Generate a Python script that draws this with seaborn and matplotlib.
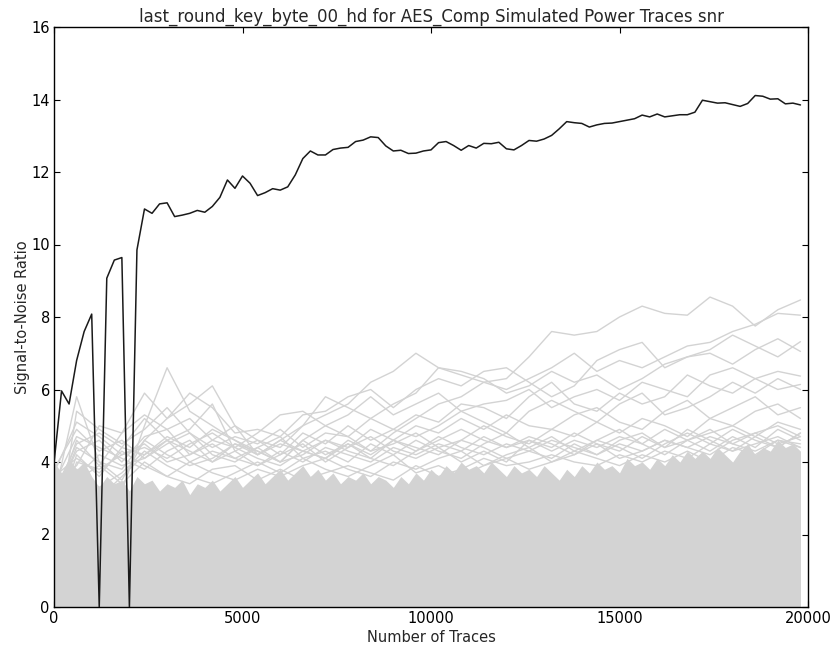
import numpy as np
import pandas as pd
import matplotlib
matplotlib.use("Agg")
import matplotlib.pyplot as plt
import seaborn as sns

# ---- data ----
traces_key = list(range(0, 20000, 200))  # 0 .. 19800
snr_key = [3.97, 5.96, 5.6, 6.8, 7.6, 8.08, 0.0, 9.07, 9.57, 9.64,
           0.0, 9.85, 10.98, 10.86, 11.12, 11.15, 10.77, 10.81, 10.86, 10.94,
           10.89, 11.05, 11.3, 11.78, 11.55, 11.89, 11.69, 11.35, 11.43, 11.54,
           11.5, 11.59, 11.92, 12.37, 12.58, 12.47, 12.47, 12.62, 12.66, 12.68,
           12.84, 12.88, 12.97, 12.95, 12.72, 12.58, 12.6, 12.51, 12.52, 12.58,
           12.61, 12.81, 12.84, 12.73, 12.6, 12.73, 12.66, 12.79, 12.78, 12.82,
           12.64, 12.61, 12.73, 12.87, 12.85, 12.91, 13.01, 13.19, 13.39, 13.36,
           13.34, 13.24, 13.30, 13.34, 13.35, 13.39, 13.43, 13.47, 13.57, 13.52,
           13.6, 13.52, 13.55, 13.58, 13.58, 13.65, 13.98, 13.94, 13.9, 13.91,
           13.86, 13.81, 13.89, 14.11, 14.09, 14.01, 14.02, 13.88, 13.9, 13.85]

# top of the dense, nearly solid mass of wrong-key guesses
wrong_mass_top = [4.0, 3.7, 4.1, 3.8, 4.0, 3.6,
                  3.3, 3.6, 3.4, 3.5, 3.2,
                  3.6, 3.4, 3.5, 3.2, 3.4, 3.3, 3.5, 3.1, 3.4, 3.3, 3.5, 3.2, 3.4, 3.6, 3.3,
                  3.5, 3.7, 3.4, 3.6, 3.8, 3.5, 3.7, 3.9, 3.6, 3.8, 3.5, 3.7, 3.4, 3.6, 3.5,
                  3.7, 3.4, 3.6, 3.5, 3.3, 3.6, 3.4, 3.7, 3.5, 3.8, 3.6, 3.9, 3.7, 4.0, 3.8,
                  3.9, 3.7, 4.0, 3.8, 3.6, 3.9, 3.7, 3.8, 3.6, 3.9, 3.7, 3.5, 3.8, 3.6, 3.9,
                  3.7, 4.0, 3.8, 3.9, 3.7, 4.1, 3.9, 4.0, 3.8, 4.1, 3.9, 4.2, 4.0, 4.3, 4.1,
                  4.3, 4.1, 4.4, 4.2, 4.0, 4.3, 4.5, 4.2, 4.4, 4.3, 4.6, 4.4, 4.5, 4.3]

traces_wrong = list(range(0, 20000, 600))  # 0 .. 19800
# wrong-key guesses that stand out above the mass
wrong_g1 = [2.5, 3.4, 3.0, 3.6, 4.2, 4.6, 4.3, 4.0, 4.5, 4.2, 4.6, 5.0, 5.3, 5.6, 6.2, 6.5, 7.0,
            6.6, 6.4, 6.2, 6.3, 6.9, 7.6, 7.5, 7.6, 8.0, 8.3, 8.1, 8.05, 8.55, 8.3, 7.75, 8.2, 8.47]
wrong_g2 = [2.0, 3.1, 2.7, 3.2, 5.0, 6.6, 5.4, 5.0, 4.6, 4.3, 4.0, 4.6, 5.0, 4.7, 4.3, 4.8, 5.2,
            5.6, 5.8, 6.2, 6.0, 6.3, 6.6, 7.0, 6.5, 6.8, 6.6, 6.9, 7.2, 7.3, 7.6, 7.8, 8.1, 8.05]
wrong_g3 = [3.0, 5.8, 4.0, 3.5, 4.6, 5.2, 5.6, 6.1, 5.0, 4.6, 4.4, 5.0, 5.8, 5.5, 5.2, 5.6, 5.9,
            6.6, 6.5, 6.3, 5.9, 6.1, 6.5, 6.2, 6.4, 6.0, 6.3, 6.7, 6.9, 7.1, 7.5, 7.2, 6.9, 7.32]
wrong_g4 = [2.8, 4.6, 3.9, 4.8, 5.9, 5.2, 5.9, 5.5, 4.8, 4.9, 4.7, 5.3, 5.4, 5.8, 6.0, 5.5, 6.0,
            6.3, 6.1, 6.5, 6.6, 6.2, 5.8, 6.1, 6.8, 7.1, 7.3, 6.6, 6.9, 7.0, 6.7, 7.1, 7.4, 7.05]
wrong_g5 = [3.5, 3.9, 5.0, 4.8, 5.3, 4.9, 5.2, 4.6, 4.4, 4.8, 5.3, 5.4, 5.0, 5.3, 5.8, 5.3, 5.6,
            5.9, 5.4, 5.6, 5.7, 6.0, 5.5, 5.8, 6.0, 5.7, 6.2, 6.0, 5.8, 6.4, 6.6, 6.3, 6.5, 6.37]
wrong_g6 = [1.5, 5.4, 4.9, 4.5, 4.9, 5.5, 4.8, 4.4, 4.7, 4.5, 4.9, 4.4, 4.8, 4.7, 5.2, 4.9, 5.3,
            5.1, 5.6, 5.5, 5.2, 5.8, 6.2, 5.6, 5.4, 5.9, 5.6, 5.8, 6.4, 6.1, 5.9, 6.3, 6.0, 6.14]
wrong_g7 = [2.2, 4.2, 3.6, 4.4, 5.2, 4.6, 4.9, 5.6, 4.3, 4.6, 4.2, 4.8, 4.5, 5.0, 4.6, 4.9, 4.7,
            5.0, 5.4, 5.1, 4.8, 5.4, 5.7, 5.4, 5.1, 5.6, 5.9, 5.3, 5.5, 5.8, 6.2, 5.9, 6.3, 6.0]
wrong_g8 = [3.0, 4.3, 4.6, 4.0, 4.7, 4.9, 4.2, 4.6, 5.0, 4.2, 4.5, 4.3, 4.6, 4.4, 4.9, 4.6, 5.0,
            4.8, 5.2, 4.9, 5.3, 5.0, 4.9, 5.3, 5.5, 5.1, 4.9, 5.4, 5.7, 5.2, 5.5, 5.8, 5.3, 5.5]
wrong_g9 = [2.0, 4.0, 3.8, 4.2, 4.4, 4.1, 4.5, 4.8, 4.4, 4.1, 3.9, 4.3, 4.1, 4.6, 4.3, 4.5, 4.8,
            4.4, 4.6, 5.0, 4.7, 4.5, 4.9, 4.7, 5.1, 4.8, 5.2, 5.0, 4.7, 5.2, 5.0, 5.4, 5.6, 5.2]
wrong_g10 = [3.3, 3.6, 4.2, 3.9, 4.1, 4.6, 4.0, 4.3, 4.1, 3.9, 4.3, 4.0, 4.4, 4.2, 4.0, 4.4, 4.2,
             4.5, 4.3, 4.7, 4.4, 4.6, 4.3, 4.6, 4.4, 4.7, 4.5, 4.9, 4.6, 4.8, 5.0, 4.7, 5.1, 4.9]
wrong_g11 = [3.6, 4.1, 3.7, 4.3, 3.9, 3.6, 4.0, 3.7, 3.5, 3.8, 3.6, 3.9, 4.1, 3.8, 3.6, 4.0, 3.8,
             4.1, 4.3, 3.9, 4.2, 4.4, 4.0, 4.2, 4.5, 4.1, 4.3, 4.6, 4.4, 4.2, 4.6, 4.8, 4.5, 4.7]
wrong_g12 = [3.2, 3.5, 3.9, 3.4, 4.0, 3.6, 3.4, 3.8, 3.9, 3.5, 3.8, 3.5, 3.7, 3.9, 3.7, 3.5, 3.9,
             3.6, 3.8, 4.1, 3.9, 4.0, 4.2, 4.0, 3.9, 4.2, 4.0, 4.3, 4.1, 4.5, 4.3, 4.5, 4.7, 4.4]
wrong_g13 = [2.6, 3.8, 3.3, 3.7, 4.3, 3.9, 3.6, 3.4, 3.7, 4.0, 3.7, 4.1, 3.8, 3.6, 3.9, 4.2, 3.7,
             3.9, 3.6, 3.9, 4.1, 3.8, 4.0, 4.3, 4.1, 3.9, 4.2, 4.0, 4.3, 4.0, 4.4, 4.2, 4.6, 4.5]
wrong_g14 = [3.8, 4.9, 4.3, 4.6, 4.1, 4.5, 4.8, 4.2, 4.0, 4.4, 4.7, 4.1, 4.3, 4.0, 4.5, 4.2, 4.6,
             4.3, 4.1, 4.5, 4.8, 4.4, 4.7, 4.3, 4.6, 4.9, 4.5, 4.2, 4.6, 4.9, 4.5, 4.8, 5.0, 4.7]
wrong_g15 = [2.9, 4.4, 4.0, 3.8, 4.6, 4.2, 3.9, 4.1, 4.5, 4.3, 4.0, 4.6, 4.2, 4.5, 4.1, 3.9, 4.3,
             4.7, 4.4, 4.2, 4.5, 4.3, 4.1, 4.5, 4.2, 4.6, 4.8, 4.4, 4.9, 4.6, 4.3, 4.7, 4.4, 4.8]
wrong_g16 = [3.4, 4.7, 4.4, 4.1, 3.8, 4.3, 4.6, 4.0, 4.3, 3.9, 4.2, 4.5, 4.0, 4.4, 4.7, 4.3, 4.1,
             4.4, 4.0, 4.3, 4.0, 4.6, 4.4, 4.8, 4.5, 4.3, 4.7, 4.4, 4.6, 4.3, 4.7, 4.4, 4.9, 4.6]
wrong_g17 = [3.7, 5.1, 4.7, 4.2, 4.5, 4.0, 4.2, 4.5, 4.1, 4.4, 4.0, 4.2, 4.6, 4.3, 4.1, 4.6, 4.4,
             4.2, 4.6, 4.4, 4.1, 4.3, 4.6, 4.4, 4.2, 4.5, 4.3, 4.6, 4.4, 4.7, 4.5, 4.3, 4.6, 4.4]
wrong_g18 = [3.1, 4.5, 4.8, 4.4, 4.2, 4.7, 4.4, 4.9, 4.6, 4.2, 4.6, 4.3, 4.1, 4.5, 4.2, 4.6, 4.3,
             4.6, 4.9, 4.6, 4.4, 4.7, 4.5, 4.2, 4.6, 4.4, 4.1, 4.5, 4.8, 4.5, 4.9, 4.6, 4.4, 4.8]

title = "last_round_key_byte_00_hd for AES_Comp Simulated Power Traces snr"
xlabel = "Number of Traces"
ylabel = "Signal-to-Noise Ratio"
xticks = [0, 5000, 10000, 15000, 20000]
yticks = [0, 2, 4, 6, 8, 10, 12, 14, 16]

# ---- build long-form table ----
wrong_lines = [wrong_g1, wrong_g2, wrong_g3, wrong_g4, wrong_g5, wrong_g6, wrong_g7,
               wrong_g8, wrong_g9, wrong_g10, wrong_g11, wrong_g12, wrong_g13,
               wrong_g14, wrong_g15, wrong_g16, wrong_g17, wrong_g18]
rows = []
for k, vals in enumerate(wrong_lines):
    for x, v in zip(traces_wrong, vals):
        rows.append({"guess": k, "traces": x, "snr": v})
df_wrong = pd.DataFrame(rows)
df_key = pd.DataFrame({"traces": traces_key, "snr": snr_key})

# ---- plot ----
sns.set_style("white")
plt.rcParams["font.family"] = ["DejaVu Sans"]
plt.rcParams["xtick.direction"] = "in"
plt.rcParams["ytick.direction"] = "in"

fig = plt.figure(figsize=(8.30, 6.48), dpi=100)
ax = fig.add_axes([54 / 830, 41 / 648, 754 / 830, 580 / 648])

grey = "#d3d3d3"
ax.fill_between(traces_key, 0, wrong_mass_top, color=grey, lw=0, zorder=1)
sns.lineplot(data=df_wrong, x="traces", y="snr", units="guess", estimator=None,
             color=grey, lw=1.0, ax=ax, zorder=2)
sns.lineplot(data=df_key, x="traces", y="snr", color="#1a1a1a", lw=1.1, ax=ax, zorder=3)

ax.set_xlim(0, 20000)
ax.set_ylim(0, 16)
ax.set_xticks(xticks)
ax.set_yticks(yticks)
ax.tick_params(axis="both", which="both", direction="in", length=4, width=0.8,
               top=True, right=True, bottom=True, left=True, labelsize=10.5, pad=3,
               color="black", labelcolor="black")
for sp in ax.spines.values():
    sp.set_visible(True)
    sp.set_color("black")
    sp.set_linewidth(1.0)

ax.set_title(title, fontsize=12, pad=4)
ax.set_xlabel(xlabel, fontsize=10.5, labelpad=3)
ax.set_ylabel(ylabel, fontsize=10.5, labelpad=1)

fig.savefig("out.png", dpi=100, facecolor="white")
